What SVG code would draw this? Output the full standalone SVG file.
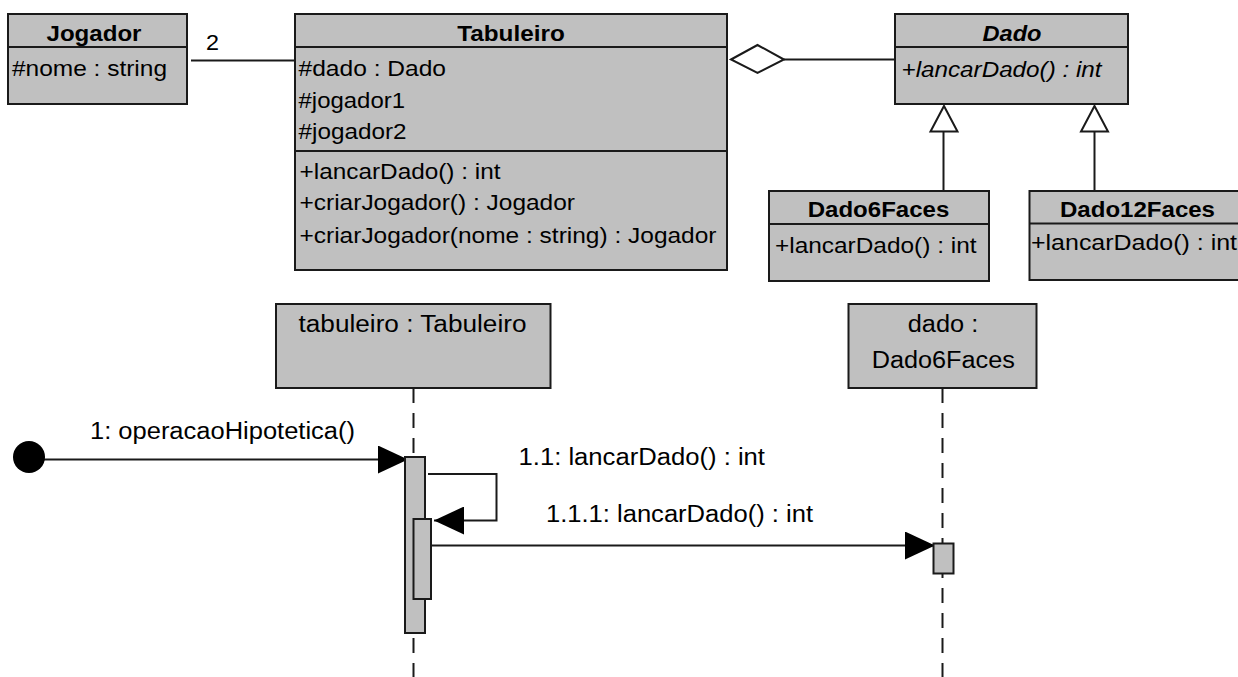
<svg xmlns="http://www.w3.org/2000/svg" width="1238" height="677" viewBox="0 0 1238 677">
<defs>
<style>
.box{fill:#c0c0c0;stroke:#1a1a1a;stroke-width:2}
.div{stroke:#1a1a1a;stroke-width:2}
.ln{fill:none;stroke:#1a1a1a;stroke-width:2}
.dash{fill:none;stroke:#1a1a1a;stroke-width:2;stroke-dasharray:15 10}
.t{font-family:"Liberation Sans",Arial,sans-serif;font-size:22px;fill:#000}
.s{font-family:"Liberation Sans",Arial,sans-serif;font-size:23px;fill:#000}
.b{font-weight:bold}
.i{font-style:italic}
.m{text-anchor:middle}
.hollow{fill:#fff;stroke:#1a1a1a;stroke-width:2}
.solid{fill:#000;stroke:none}
</style>
<marker id="filled" viewBox="0 0 30 28" refX="30" refY="14" markerWidth="30" markerHeight="28" markerUnits="userSpaceOnUse" orient="auto">
<path d="M0,0 L30,14 L0,28 Z" class="solid"/>
</marker>
</defs>
<rect width="1238" height="677" fill="#fff"/>

<g id="connectors">
<line class="ln" x1="191" y1="60.5" x2="295" y2="60.5"/>
<text class="t" x="206" y="50" textLength="13" lengthAdjust="spacingAndGlyphs">2</text>
<line class="ln" x1="784" y1="59.5" x2="895" y2="59.5"/>
<polygon class="hollow" points="731,59.5 757.5,45 784,59.5 757.5,73"/>
<line class="ln" x1="943.5" y1="131.5" x2="943.5" y2="191"/>
<polygon class="hollow" points="944,106 957.5,131.5 930.5,131.5"/>
<line class="ln" x1="1094.5" y1="131.5" x2="1094.5" y2="191"/>
<polygon class="hollow" points="1094.5,106 1108,131.5 1081,131.5"/>

<line class="dash" x1="413.5" y1="388" x2="413.5" y2="677"/>
<line class="dash" x1="942.5" y1="388" x2="942.5" y2="677"/>

<line class="ln" x1="40" y1="459.5" x2="408" y2="459.5" marker-end="url(#filled)"/>
<text class="s" x="90" y="439" textLength="265" lengthAdjust="spacingAndGlyphs">1: operacaoHipotetica()</text>
<path class="ln" d="M428,474 H496.5 V520.5 H434" marker-end="url(#filled)"/>
<text class="s" x="518.5" y="465" textLength="246.5" lengthAdjust="spacingAndGlyphs">1.1: lancarDado() : int</text>
<line class="ln" x1="431" y1="545.5" x2="935" y2="545.5" marker-end="url(#filled)"/>
<text class="s" x="546" y="521.5" textLength="267" lengthAdjust="spacingAndGlyphs">1.1.1: lancarDado() : int</text>
</g>

<g id="jogador">
<rect class="box" x="8" y="14" width="179" height="90"/>
<line class="div" x1="8" y1="47" x2="187" y2="47"/>
<text class="t b m" x="94" y="40.5" textLength="95" lengthAdjust="spacingAndGlyphs">Jogador</text>
<text class="t" x="12" y="76" textLength="155" lengthAdjust="spacingAndGlyphs">#nome : string</text>
</g>

<g id="tabuleiro">
<rect class="box" x="295" y="14" width="432" height="256"/>
<line class="div" x1="295" y1="47" x2="727" y2="47"/>
<line class="div" x1="295" y1="151" x2="727" y2="151"/>
<text class="t b m" x="511" y="40.5" textLength="107.5" lengthAdjust="spacingAndGlyphs">Tabuleiro</text>
<text class="t" x="298.5" y="75.5" textLength="147.5" lengthAdjust="spacingAndGlyphs">#dado : Dado</text>
<text class="t" x="298.5" y="107.5" textLength="106.5" lengthAdjust="spacingAndGlyphs">#jogador1</text>
<text class="t" x="298.5" y="139" textLength="108" lengthAdjust="spacingAndGlyphs">#jogador2</text>
<text class="t" x="299.5" y="178.5" textLength="201" lengthAdjust="spacingAndGlyphs">+lancarDado() : int</text>
<text class="t" x="299.5" y="210" textLength="275.5" lengthAdjust="spacingAndGlyphs">+criarJogador() : Jogador</text>
<text class="t" x="299.5" y="242.5" textLength="417" lengthAdjust="spacingAndGlyphs">+criarJogador(nome : string) : Jogador</text>
</g>

<g id="dado">
<rect class="box" x="895" y="14" width="233" height="90"/>
<line class="div" x1="895" y1="47" x2="1128" y2="47"/>
<text class="t b i m" x="1012" y="40.5" textLength="59" lengthAdjust="spacingAndGlyphs">Dado</text>
<text class="t i" x="901.5" y="76.5" textLength="200" lengthAdjust="spacingAndGlyphs">+lancarDado() : int</text>
</g>

<g id="dado6faces">
<rect class="box" x="769" y="191" width="220" height="90"/>
<line class="div" x1="769" y1="224" x2="989" y2="224"/>
<text class="t b m" x="878.5" y="217" textLength="141.5" lengthAdjust="spacingAndGlyphs">Dado6Faces</text>
<text class="t" x="775" y="252.5" textLength="201.5" lengthAdjust="spacingAndGlyphs">+lancarDado() : int</text>
</g>

<g id="dado12faces">
<rect class="box" x="1029.5" y="191" width="212" height="89"/>
<line class="div" x1="1029.5" y1="223.5" x2="1240" y2="223.5"/>
<text class="t b m" x="1137.5" y="216.5" textLength="155" lengthAdjust="spacingAndGlyphs">Dado12Faces</text>
<text class="t" x="1031" y="250" textLength="206" lengthAdjust="spacingAndGlyphs">+lancarDado() : int</text>
</g>

<g id="start">
<circle cx="29" cy="457" r="16" fill="#000"/>
</g>

<g id="lifeline-tabuleiro">
<rect class="box" x="276" y="304" width="274.5" height="84"/>
<text class="s m" x="412.5" y="332" textLength="228" lengthAdjust="spacingAndGlyphs">tabuleiro : Tabuleiro</text>
<rect class="box" x="405" y="457" width="20" height="176"/>
<rect class="box" x="413.5" y="519" width="17.5" height="80"/>
</g>

<g id="lifeline-dado">
<rect class="box" x="848.5" y="304" width="188" height="84"/>
<text class="s m" x="943" y="332" textLength="70.5" lengthAdjust="spacingAndGlyphs">dado :</text>
<text class="s m" x="943.3" y="368" textLength="143.3" lengthAdjust="spacingAndGlyphs">Dado6Faces</text>
<rect class="box" x="933.5" y="543.5" width="20" height="30"/>
</g>
</svg>
